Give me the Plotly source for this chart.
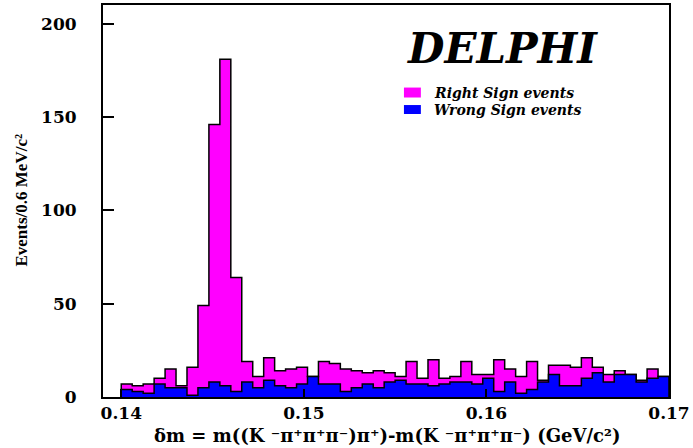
import numpy as np
import plotly.graph_objects as go

# ---- data ----
bin_start = 0.14
bin_width = 0.0006
right_sign = [7, 6, 7, 10, 15, 6, 16, 49, 146, 181,
              64, 19, 11, 21, 14, 15, 16, 11, 19, 18,
              15, 14, 13, 14, 13, 11, 19, 10, 20, 10,
              11, 19, 12, 12, 20, 15, 11, 19, 9, 17,
              17, 16, 21, 16, 12, 14, 12, 9, 15, 11]
wrong_sign = [4, 3, 2, 7, 5, 5, 1, 5, 8, 6,
              3, 8, 5, 9, 6, 5, 7, 11, 7, 7,
              3, 5, 7, 5, 8, 9, 7, 7, 6, 7,
              8, 8, 7, 10, 3, 8, 2, 4, 8, 12,
              6, 6, 10, 13, 8, 12, 12, 8, 10, 11]
x_ticks = [0.14, 0.15, 0.16, 0.17]
y_ticks = [0, 50, 100, 150, 200]
series_names = ["Right Sign events", "Wrong Sign events"]
series_colors = ["#FF00FF", "#0000FF"]


def step_xy(values):
    vals = np.asarray(values, dtype=float)
    edges = bin_start + bin_width * np.arange(len(vals) + 1)
    xs = np.concatenate([[edges[0]], edges[:-1], [edges[-1], edges[-1]]])
    ys = np.concatenate([[0.0], vals, [vals[-1], 0.0]])
    return xs, ys


fig = go.Figure()
for vals, name, col in zip([right_sign, wrong_sign], series_names, series_colors):
    xs, ys = step_xy(vals)
    fig.add_trace(go.Scatter(
        x=xs, y=ys, mode="lines", line=dict(shape="hv", color="black", width=1.5),
        fill="tozeroy", fillcolor=col, name=name, showlegend=False,
    ))

tick_font = dict(family="DejaVu Serif", size=17, color="black", weight="bold")

fig.update_layout(
    width=693, height=448,
    margin=dict(l=103, r=22, t=3, b=51),
    paper_bgcolor="white", plot_bgcolor="white",
    showlegend=False,
    xaxis=dict(range=[0.139, 0.17], tickvals=x_ticks, ticktext=[f"{v:.2f}" for v in x_ticks],
               ticks="inside", ticklen=8, tickwidth=1.5, tickcolor="black",
               showline=True, linecolor="black", linewidth=2, mirror=True,
               showgrid=False, zeroline=False, tickfont=tick_font),
    yaxis=dict(range=[0, 210], tickvals=y_ticks,
               ticks="inside", ticklen=11, tickwidth=1.5, tickcolor="black",
               showline=True, linecolor="black", linewidth=2, mirror=True,
               showgrid=False, zeroline=False, tickfont=tick_font,
               ticklabelstandoff=21),
)

annotations = [
    dict(text="DELPHI", x=0.705, y=0.888, xref="paper", yref="paper",
         xanchor="center", yanchor="middle", showarrow=False,
         font=dict(family="DejaVu Serif", size=42, color="black", weight="bold", style="italic")),
    dict(text=series_names[0], x=0.581, y=0.776, xref="paper", yref="paper",
         xanchor="left", yanchor="middle", showarrow=False,
         font=dict(family="DejaVu Serif", size=14, color="black", weight="bold", style="italic")),
    dict(text=series_names[1], x=0.581, y=0.733, xref="paper", yref="paper",
         xanchor="left", yanchor="middle", showarrow=False,
         font=dict(family="DejaVu Serif", size=14, color="black", weight="bold", style="italic")),
    dict(text="δm = m((K ⁻π⁺π⁺π⁻)π⁺)-m(K ⁻π⁺π⁺π⁻) (GeV/c²)",
         x=0.502, y=-0.097, xref="paper", yref="paper",
         xanchor="center", yanchor="middle", showarrow=False,
         font=dict(family="DejaVu Serif", size=18, color="black", weight="bold")),
    dict(text="Events/0.6 MeV/c²", x=-0.144, y=0.5025, xref="paper", yref="paper",
         xanchor="center", yanchor="middle", showarrow=False, textangle=-90,
         font=dict(family="Liberation Serif", size=17, color="black", weight="bold")),
]
fig.update_layout(annotations=annotations)

shapes = [
    dict(type="rect", xref="paper", yref="paper", x0=0.5317, x1=0.5616, y0=0.7640, y1=0.7894,
         fillcolor=series_colors[0], line=dict(width=0)),
    dict(type="rect", xref="paper", yref="paper", x0=0.5317, x1=0.5616, y0=0.7220, y1=0.7448,
         fillcolor=series_colors[1], line=dict(width=0)),
]
fig.update_layout(shapes=shapes)

fig.write_html("out.html", config={"displayModeBar": False},
               post_script="document.body.style.margin='0';")
